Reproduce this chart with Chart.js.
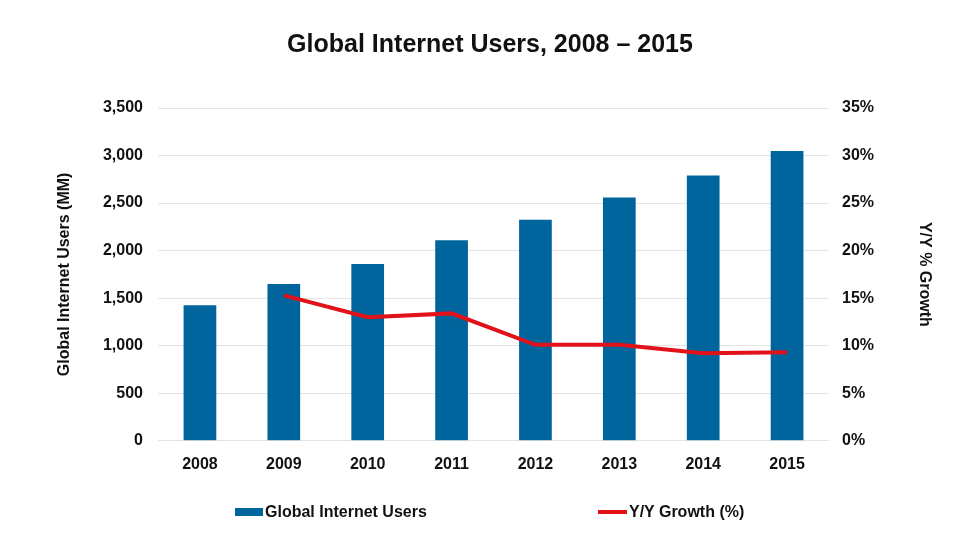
<!DOCTYPE html>
<html>
<head>
<meta charset="utf-8">
<script src="https://cdn.jsdelivr.net/npm/chart.js@4/dist/chart.umd.min.js"></script>
<style>
    html, body {
        margin: 0;
        padding: 0;
        background: #ffffff;
    }

    #wrap {
        position: relative;
        width: 980px;
        height: 547px;
    }

    #legend {
        position: absolute;
        top: 502px;
        left: 0;
        width: 980px;
        height: 20px;
        font: bold 16px "Liberation Sans", Arial, sans-serif;
        color: #111111;
    }

    .item {
        position: absolute;
        top: 0;
        line-height: 20px;
        white-space: nowrap;
    }

    .swatch {
        display: inline-block;
        vertical-align: middle;
        margin-right: 2px;
        position: relative;
        top: -1px;
    }
</style>
</head>
<body>
<div id="wrap">
    <canvas id="chart" width="980" height="547"></canvas>
    <div id="legend"></div>
</div>
<script>
const years = ["2008", "2009", "2010", "2011", "2012", "2013", "2014", "2015"];
const users = [1426, 1648, 1859, 2109, 2324, 2560, 2789, 3049];
const growth = [null, 15.3, 13.0, 13.4, 10.1, 10.1, 9.2, 9.3];

const usersLabel = "Global Internet Users";
const growthLabel = "Y/Y Growth (%)";

const blue = "#00659c";
const red = "#e2121b";
const tickFont = { family: "'Liberation Sans', Arial, sans-serif", size: 16, weight: "bold" };

const ctx = document.getElementById("chart");

new Chart(ctx, {
    data: {
        labels: years,
        datasets: [{
            type: "line",
            label: growthLabel,
            data: growth,
            yAxisID: "yRight",
            borderColor: red,
            backgroundColor: red,
            borderWidth: 4,
            pointRadius: 0,
            tension: 0,
            order: 0
        }, {
            type: "bar",
            label: usersLabel,
            data: users,
            yAxisID: "yLeft",
            backgroundColor: blue,
            barPercentage: 0.39,
            categoryPercentage: 1,
            order: 1
        }]
    },
    options: {
        responsive: false,
        animation: false,
        layout: {
            padding: { top: 20, left: 0, right: 0, bottom: 67 }
        },
        plugins: {
            legend: { display: false },
            tooltip: { enabled: false },
            title: {
                display: true,
                text: "Global Internet Users, 2008 \u2013 2015",
                color: "#111111",
                font: { family: "'Liberation Sans', Arial, sans-serif", size: 25, weight: "bold" },
                padding: { top: 10, bottom: 48 }
            }
        },
        scales: {
            x: {
                grid: { display: false },
                border: { display: false },
                ticks: { color: "#111111", font: tickFont, padding: 6 }
            },
            yLeft: {
                position: "left",
                min: 0,
                max: 3500,
                afterFit: function (scale) {
                    scale.width = 158;
                },
                grid: { color: "#e4e4e4", drawTicks: false },
                border: { display: false },
                ticks: {
                    stepSize: 500,
                    padding: 15,
                    color: "#111111",
                    font: tickFont,
                    callback: function (value) {
                        return value.toLocaleString("en-US");
                    }
                },
                title: {
                    display: true,
                    text: "Global Internet Users (MM)",
                    color: "#111111",
                    font: tickFont,
                    padding: { top: 55, bottom: 0 }
                }
            },
            yRight: {
                position: "right",
                min: 0,
                max: 35,
                afterFit: function (scale) {
                    scale.width = 151;
                },
                grid: { drawOnChartArea: false, drawTicks: false },
                border: { display: false },
                ticks: {
                    stepSize: 5,
                    padding: 13,
                    color: "#111111",
                    font: tickFont,
                    callback: function (value) {
                        return value + "%";
                    }
                },
                title: {
                    display: true,
                    text: "Y/Y % Growth",
                    color: "#111111",
                    font: tickFont,
                    padding: { top: 46, bottom: 0 }
                }
            }
        }
    }
});

// legend drawn as html so the swatch sits right against the text
const legend = document.getElementById("legend");
legend.innerHTML =
    "<div class=\"item\" style=\"left:235px\">" +
    "<span class=\"swatch\" style=\"width:28px;height:8px;background:" + blue + "\"></span>" + usersLabel +
    "</div>" +
    "<div class=\"item\" style=\"left:598px\">" +
    "<span class=\"swatch\" style=\"width:29px;height:4px;background:" + red + "\"></span>" + growthLabel +
    "</div>";
</script>
</body>
</html>
